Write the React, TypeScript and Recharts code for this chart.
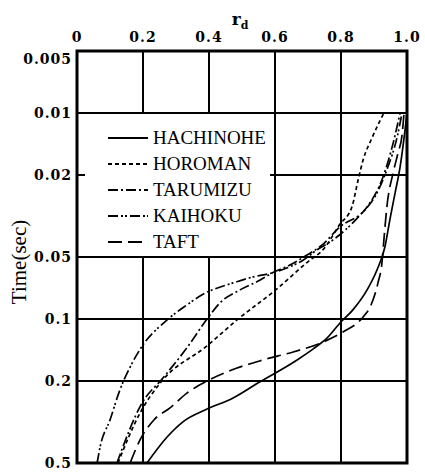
import React from 'react';
import { LineChart, Line, XAxis, YAxis, CartesianGrid, ReferenceArea, Legend } from 'recharts';

const R_TICKS = [0, 0.2, 0.4, 0.6, 0.8, 1.0];
const T_TICKS = [0.005, 0.01, 0.02, 0.05, 0.1, 0.2, 0.5];

// r_d against time for each record
const HACHINOHE_R = [0.212, 0.273, 0.324, 0.388, 0.473, 0.548, 0.667, 0.715, 0.758, 0.797, 0.836, 0.879, 0.909, 0.933, 0.948, 0.964, 0.979, 0.994, 1.0];
const HACHINOHE_T = [0.5, 0.374, 0.313, 0.2765, 0.2417, 0.2046, 0.158, 0.14, 0.1236, 0.1045, 0.0903, 0.0722, 0.0578, 0.0447, 0.033, 0.0244, 0.0183, 0.0121, 0.01];

const HOROMAN_R = [0.124, 0.191, 0.252, 0.394, 0.485, 0.606, 0.703, 0.745, 0.797, 0.833, 0.852, 0.867, 0.894, 0.93];
const HOROMAN_T = [0.5, 0.286, 0.2046, 0.135, 0.101, 0.0714, 0.0522, 0.0462, 0.0346, 0.0286, 0.0211, 0.0169, 0.0132, 0.01];

const TARUMIZU_R = [0.121, 0.197, 0.261, 0.333, 0.394, 0.433, 0.494, 0.555, 0.591, 0.645, 0.697, 0.742, 0.797, 0.879, 0.927, 0.958, 0.979];
const TARUMIZU_T = [0.5, 0.256, 0.193, 0.138, 0.1, 0.0835, 0.0722, 0.0647, 0.0598, 0.0547, 0.0489, 0.0438, 0.0357, 0.0286, 0.0205, 0.014, 0.01];

const KAIHOKU_R = [0.061, 0.07, 0.1, 0.13, 0.161, 0.194, 0.273, 0.333, 0.388, 0.418, 0.473, 0.533, 0.591, 0.636, 0.685, 0.727, 0.776, 0.852, 0.909, 0.942, 0.97, 0.985];
const KAIHOKU_T = [0.5, 0.418, 0.309, 0.221, 0.171, 0.138, 0.101, 0.0855, 0.0748, 0.0714, 0.0668, 0.0625, 0.0598, 0.0565, 0.0518, 0.0462, 0.0413, 0.032, 0.0244, 0.0183, 0.0131, 0.01];

const TAFT_R = [0.161, 0.191, 0.233, 0.282, 0.333, 0.394, 0.485, 0.564, 0.655, 0.745, 0.806, 0.867, 0.891, 0.912, 0.924, 0.93, 0.939, 0.958, 0.973, 0.985, 0.991];
const TAFT_T = [0.5, 0.386, 0.309, 0.27, 0.229, 0.2, 0.173, 0.158, 0.1445, 0.1295, 0.1156, 0.0977, 0.0855, 0.0668, 0.0535, 0.0413, 0.0286, 0.0195, 0.0156, 0.0128, 0.01];

const zip = (r: number[], t: number[]) => r.map((v, i) => ({ r: v, t: t[i] }));

const SERIES = [
  { name: 'HACHINOHE', data: zip(HACHINOHE_R, HACHINOHE_T), dash: undefined },
  { name: 'HOROMAN', data: zip(HOROMAN_R, HOROMAN_T), dash: '4 3' },
  { name: 'TARUMIZU', data: zip(TARUMIZU_R, TARUMIZU_T), dash: '10 3 2 3' },
  { name: 'KAIHOKU', data: zip(KAIHOKU_R, KAIHOKU_T), dash: '10 3 2 2 2 3' },
  { name: 'TAFT', data: zip(TAFT_R, TAFT_T), dash: '14 6' },
];

const tickFont = { fontFamily: '"DejaVu Serif", serif', fontWeight: 700, fontSize: 14, letterSpacing: 1 };

const XTick = (props: any) => {
  const v = props.payload.value;
  return (
    <text x={props.x} y={42} textAnchor="middle" fill="#000" style={tickFont}>
      {v === 0 ? '0' : v.toFixed(1)}
    </text>
  );
};

const YTick = (props: any) => {
  const v = props.payload.value;
  const shift = v === 0.005 ? 8 : 0;
  return (
    <text x={72} y={props.y + shift + 5} textAnchor="end" fill="#000" style={tickFont}>
      {String(v)}
    </text>
  );
};

const LegendBox = () => (
  <div style={{ paddingTop: 11, paddingLeft: 23, fontFamily: '"Liberation Serif", serif', fontSize: 19, color: '#000' }}>
    {SERIES.map((s) => (
      <div key={s.name} style={{ height: 26, display: 'flex', alignItems: 'center', whiteSpace: 'nowrap' }}>
        <svg width={40} height={4} style={{ marginRight: 5, flexShrink: 0 }}>
          <line x1={0} y1={2} x2={40} y2={2} stroke="#000" strokeWidth={1.8} strokeDasharray={s.dash} />
        </svg>
        <span>{s.name}</span>
      </div>
    ))}
  </div>
);

export default function App() {
  return (
    <div style={{ position: 'absolute', left: 0, top: 0, background: '#fff' }}>
      <LineChart width={425} height={474} margin={{ top: 21, right: 18, bottom: 11, left: 7 }}>
        <CartesianGrid stroke="#000" strokeWidth={2} />
        <XAxis
          type="number"
          dataKey="r"
          orientation="top"
          domain={[0, 1]}
          ticks={R_TICKS}
          height={30}
          axisLine={false}
          tickLine={false}
          tick={<XTick />}
          allowDataOverflow
          label={{
            content: () => (
              <text x={240} y={25} textAnchor="middle" fill="#000" style={{ fontFamily: '"DejaVu Serif", serif', fontWeight: 700, fontSize: 17 }}>
                r<tspan dy={4} fontSize={11}>d</tspan>
              </text>
            ),
          }}
        />
        <YAxis
          type="number"
          dataKey="t"
          scale="log"
          domain={[0.005, 0.5]}
          ticks={T_TICKS}
          reversed
          width={70}
          axisLine={false}
          tickLine={false}
          tick={<YTick />}
          allowDataOverflow
          label={{
            content: () => (
              <text x={26} y={262} transform="rotate(-90 26 262)" textAnchor="middle" fill="#000" style={{ fontFamily: '"Liberation Serif", serif', fontSize: 21 }}>
                Time(sec)
              </text>
            ),
          }}
        />
        <ReferenceArea x1={0} x2={1} y1={0.005} y2={0.5} fill="none" stroke="#000" strokeWidth={3} fillOpacity={0} />
        {SERIES.map((s) => (
          <Line
            key={s.name}
            data={s.data}
            dataKey="t"
            name={s.name}
            type="monotone"
            stroke="#000"
            strokeWidth={1.7}
            strokeDasharray={s.dash}
            dot={false}
            isAnimationActive={false}
          />
        ))}
        <Legend
          layout="vertical"
          align="center"
          verticalAlign="middle"
          content={<LegendBox />}
          wrapperStyle={{ left: 85, top: 114, width: 185, height: 142, background: '#fff' }}
        />
      </LineChart>
    </div>
  );
}
